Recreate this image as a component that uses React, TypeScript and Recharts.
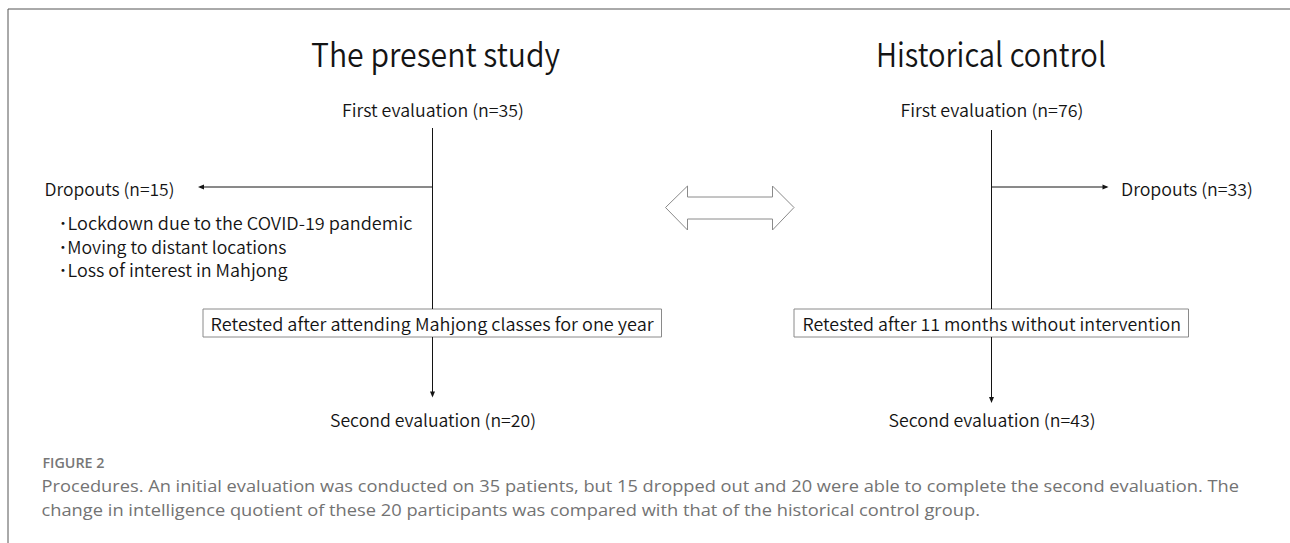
import React from "react";
import {
  ComposedChart,
  XAxis,
  YAxis,
  Scatter,
  ReferenceLine,
  ReferenceArea,
} from "recharts";

// ---- content (values / texts) ----
const groups = ["The present study", "Historical control"];
const firstEvalN = [35, 76];
const dropoutN = [15, 33];
const secondEvalN = [20, 43];
const retestLabels = [
  "Retested after attending Mahjong classes for one year",
  "Retested after 11 months without intervention",
];
const dropoutReasons = [
  "Lockdown due to the COVID-19 pandemic",
  "Moving to distant locations",
  "Loss of interest in Mahjong",
];
const captionTitle = "FIGURE 2";
const captionLines = [
  "Procedures. An initial evaluation was conducted on 35 patients, but 15 dropped out and 20 were able to complete the second evaluation. The",
  "change in intelligence quotient of these 20 participants was compared with that of the historical control group.",
];

// ---- layout (diagram coordinates, drawn through the chart scales) ----
const W = 1290;
const H = 543;
const columnX = [432.5, 991.5];
const titleX = [435.5, 991];
const titleWidths = [249, 230];
const firstWidths = [182, 183];
const firstLineStart = [128, 130];
const dropoutTextX = [44.5, 1121];
const dropoutWidths = [130, 132];
const dropoutArrowTip = [198, 1108.5];
const reasonStartX = 58.5;
const reasonWidths = [354, 228, 229];
const reasonY = [230, 253.5, 277];
const boxX = [
  [203, 661.5],
  [794, 1188.5],
];
const boxTextX = [210.6, 802.5];
const boxTextWidths = [443, 378.5];
const secondWidths = [206, 207];
const secondArrowTip = [397.5, 403];
const captionWidths = [1197.5, 938.5];
const doubleArrow = [
  [665.5, 207.5],
  [687.5, 186],
  [687.5, 197],
  [772.5, 197],
  [772.5, 186],
  [794, 207.5],
  [772.5, 230],
  [772.5, 219],
  [687.5, 219],
  [687.5, 230],
  [665.5, 207.5],
];

const DIAGRAM_FONT = "'Noto Sans CJK JP', 'Noto Sans', sans-serif";
const CAPTION_FONT = "'Open Sans', 'Noto Sans', sans-serif";
const INK = "#141414";
const WEIGHT = 350;

type TextItem = {
  x: number;
  y: number;
  text: string;
  size: number;
  width?: number;
  anchor: "start" | "middle" | "end";
  fill: string;
  family: string;
  weight: number;
};

const texts: TextItem[] = [];
groups.forEach((g, i) => {
  texts.push({ x: titleX[i], y: 67, text: g, size: 33, width: titleWidths[i], anchor: "middle", fill: INK, family: DIAGRAM_FONT, weight: WEIGHT });
  texts.push({ x: columnX[i] + 0.5, y: 117, text: `First evaluation (n=${firstEvalN[i]})`, size: 17, width: firstWidths[i], anchor: "middle", fill: INK, family: DIAGRAM_FONT, weight: WEIGHT });
  texts.push({ x: dropoutTextX[i], y: 196, text: `Dropouts (n=${dropoutN[i]})`, size: 17, width: dropoutWidths[i], anchor: "start", fill: INK, family: DIAGRAM_FONT, weight: WEIGHT });
  texts.push({ x: boxTextX[i], y: 330.5, text: retestLabels[i], size: 17, width: boxTextWidths[i], anchor: "start", fill: INK, family: DIAGRAM_FONT, weight: WEIGHT });
  texts.push({ x: columnX[i] + 0.5, y: 427, text: `Second evaluation (n=${secondEvalN[i]})`, size: 17, width: secondWidths[i], anchor: "middle", fill: INK, family: DIAGRAM_FONT, weight: WEIGHT });
});
dropoutReasons.forEach((r, i) => {
  texts.push({ x: reasonStartX, y: reasonY[i], text: `\uFF65${r}`, size: 17, width: reasonWidths[i], anchor: "start", fill: INK, family: DIAGRAM_FONT, weight: WEIGHT });
});
texts.push({ x: 42.5, y: 468, text: captionTitle, size: 14, width: 62, anchor: "start", fill: "#777", family: CAPTION_FONT, weight: 600 });
captionLines.forEach((c, i) => {
  texts.push({ x: 41.5, y: 492 + i * 24, text: c, size: 17, width: captionWidths[i], anchor: "start", fill: "#737373", family: CAPTION_FONT, weight: 400 });
});

const arrowHeads = [
  { x: dropoutArrowTip[0], y: 187, dir: "left" },
  { x: dropoutArrowTip[1], y: 187, dir: "right" },
  { x: columnX[0], y: secondArrowTip[0], dir: "down" },
  { x: columnX[1], y: secondArrowTip[1], dir: "down" },
];

type Seg = { a: [number, number]; b: [number, number]; stroke: string };
const segments: Seg[] = [
  { a: [8, 9], b: [W, 9], stroke: "#555" },
  { a: [8, 9], b: [8, H], stroke: "#555" },
];
columnX.forEach((cx, i) => {
  segments.push({ a: [cx, firstLineStart[i]], b: [cx, 309], stroke: INK });
  segments.push({ a: [cx, 337], b: [cx, secondArrowTip[i] - 2], stroke: INK });
  const tip = dropoutArrowTip[i];
  segments.push({ a: [cx, 187], b: [tip + (tip < cx ? 2 : -2), 187], stroke: INK });
});
for (let i = 0; i < doubleArrow.length - 1; i++) {
  segments.push({ a: doubleArrow[i] as [number, number], b: doubleArrow[i + 1] as [number, number], stroke: "#8a8a8a" });
}

const TextShape = (props: any) => {
  const { cx, cy, payload } = props;
  const p = payload as TextItem;
  const extra: any = {};
  if (p.width) {
    extra.textLength = p.width;
    extra.lengthAdjust = "spacingAndGlyphs";
  }
  return (
    <text
      x={cx}
      y={cy}
      fontSize={p.size}
      fontFamily={p.family}
      fontWeight={p.weight}
      fill={p.fill}
      textAnchor={p.anchor}
      {...extra}
    >
      {p.text}
    </text>
  );
};

const ArrowShape = (props: any) => {
  const { cx, cy, payload } = props;
  const L = 6;
  const hw = 2.5;
  let pts = "";
  if (payload.dir === "left") pts = `${cx},${cy} ${cx + L},${cy - hw} ${cx + L},${cy + hw}`;
  else if (payload.dir === "right") pts = `${cx},${cy} ${cx - L},${cy - hw} ${cx - L},${cy + hw}`;
  else pts = `${cx},${cy} ${cx - hw},${cy - L} ${cx + hw},${cy - L}`;
  return <polygon points={pts} fill={INK} stroke="none" />;
};

export default function App() {
  return (
    <div style={{ position: "absolute", left: 0, top: 0, width: W, height: H, background: "#fff" }}>
      <ComposedChart width={W} height={H} margin={{ top: 0, right: 0, bottom: 0, left: 0 }}>
        <XAxis type="number" dataKey="x" domain={[0, W]} hide allowDataOverflow />
        <YAxis type="number" dataKey="y" domain={[0, H]} reversed hide allowDataOverflow />
        {segments.map((s, i) => (
          <ReferenceLine
            key={`s${i}`}
            segment={[
              { x: s.a[0], y: s.a[1] },
              { x: s.b[0], y: s.b[1] },
            ]}
            stroke={s.stroke}
            strokeWidth={1}
            ifOverflow="visible"
          />
        ))}
        {boxX.map((b, i) => (
          <ReferenceArea
            key={`b${i}`}
            x1={b[0]}
            x2={b[1]}
            y1={309}
            y2={337}
            fill="#fff"
            fillOpacity={1}
            stroke="#8a8a8a"
            strokeWidth={1}
            ifOverflow="visible"
          />
        ))}
        <Scatter data={arrowHeads} shape={ArrowShape} isAnimationActive={false} />
        <Scatter data={texts} shape={TextShape} isAnimationActive={false} />
      </ComposedChart>
    </div>
  );
}
